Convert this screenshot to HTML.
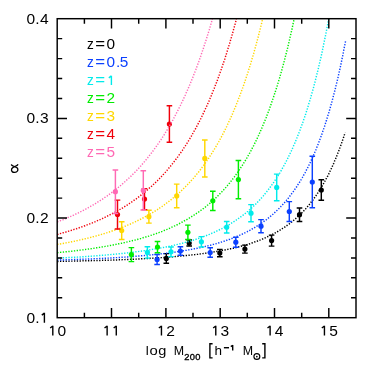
<!DOCTYPE html>
<html><head><meta charset="utf-8"><title>alpha vs mass</title>
<style>html,body{margin:0;padding:0;background:#fff}body{width:374px;height:374px;position:relative;overflow:hidden;font-family:"Liberation Sans",sans-serif}</style></head>
<body>
<svg width="374" height="374" viewBox="0 0 374 374" style="position:absolute;left:0;top:0;will-change:transform">
<defs><clipPath id="c"><rect x="57.2" y="18.7" width="298.8" height="299.0"/></clipPath></defs>
<path clip-path="url(#c)" d="M57.2 261.4 L58.2 261.4 L59.1 261.3 L60.1 261.3 L61.1 261.3 L62.0 261.3 L63.0 261.3 L63.9 261.2 L64.9 261.2 L65.9 261.2 L66.8 261.2 L67.8 261.2 L68.8 261.2 L69.7 261.1 L70.7 261.1 L71.6 261.1 L72.6 261.1 L73.6 261.1 L74.5 261.0 L75.5 261.0 L76.5 261.0 L77.4 261.0 L78.4 261.0 L79.3 260.9 L80.3 260.9 L81.3 260.9 L82.2 260.9 L83.2 260.8 L84.2 260.8 L85.1 260.8 L86.1 260.8 L87.1 260.8 L88.0 260.7 L89.0 260.7 L89.9 260.7 L90.9 260.7 L91.9 260.6 L92.8 260.6 L93.8 260.6 L94.8 260.6 L95.7 260.5 L96.7 260.5 L97.6 260.5 L98.6 260.4 L99.6 260.4 L100.5 260.4 L101.5 260.4 L102.5 260.3 L103.4 260.3 L104.4 260.3 L105.3 260.2 L106.3 260.2 L107.3 260.2 L108.2 260.2 L109.2 260.1 L110.2 260.1 L111.1 260.1 L112.1 260.0 L113.1 260.0 L114.0 260.0 L115.0 259.9 L115.9 259.9 L116.9 259.9 L117.9 259.8 L118.8 259.8 L119.8 259.8 L120.8 259.7 L121.7 259.7 L122.7 259.6 L123.6 259.6 L124.6 259.6 L125.6 259.5 L126.5 259.5 L127.5 259.5 L128.5 259.4 L129.4 259.4 L130.4 259.3 L131.4 259.3 L132.3 259.2 L133.3 259.2 L134.2 259.2 L135.2 259.1 L136.2 259.1 L137.1 259.0 L138.1 259.0 L139.1 258.9 L140.0 258.9 L141.0 258.8 L141.9 258.8 L142.9 258.7 L143.9 258.7 L144.8 258.6 L145.8 258.6 L146.8 258.5 L147.7 258.5 L148.7 258.4 L149.6 258.4 L150.6 258.3 L151.6 258.3 L152.5 258.2 L153.5 258.1 L154.5 258.1 L155.4 258.0 L156.4 258.0 L157.4 257.9 L158.3 257.8 L159.3 257.8 L160.2 257.7 L161.2 257.6 L162.2 257.6 L163.1 257.5 L164.1 257.4 L165.1 257.4 L166.0 257.3 L167.0 257.2 L167.9 257.2 L168.9 257.1 L169.9 257.0 L170.8 256.9 L171.8 256.9 L172.8 256.8 L173.7 256.7 L174.7 256.6 L175.6 256.5 L176.6 256.5 L177.6 256.4 L178.5 256.3 L179.5 256.2 L180.5 256.1 L181.4 256.0 L182.4 255.9 L183.4 255.8 L184.3 255.7 L185.3 255.6 L186.2 255.5 L187.2 255.4 L188.2 255.3 L189.1 255.2 L190.1 255.1 L191.1 255.0 L192.0 254.9 L193.0 254.8 L193.9 254.7 L194.9 254.6 L195.9 254.5 L196.8 254.4 L197.8 254.3 L198.8 254.1 L199.7 254.0 L200.7 253.9 L201.6 253.8 L202.6 253.6 L203.6 253.5 L204.5 253.4 L205.5 253.2 L206.5 253.1 L207.4 253.0 L208.4 252.8 L209.4 252.7 L210.3 252.5 L211.3 252.4 L212.2 252.2 L213.2 252.1 L214.2 251.9 L215.1 251.8 L216.1 251.6 L217.1 251.4 L218.0 251.3 L219.0 251.1 L219.9 250.9 L220.9 250.8 L221.9 250.6 L222.8 250.4 L223.8 250.2 L224.8 250.0 L225.7 249.8 L226.7 249.6 L227.6 249.4 L228.6 249.2 L229.6 249.0 L230.5 248.8 L231.5 248.6 L232.5 248.4 L233.4 248.2 L234.4 247.9 L235.4 247.7 L236.3 247.5 L237.3 247.2 L238.2 247.0 L239.2 246.7 L240.2 246.5 L241.1 246.2 L242.1 246.0 L243.1 245.7 L244.0 245.4 L245.0 245.1 L245.9 244.8 L246.9 244.6 L247.9 244.3 L248.8 244.0 L249.8 243.7 L250.8 243.3 L251.7 243.0 L252.7 242.7 L253.7 242.4 L254.6 242.0 L255.6 241.7 L256.5 241.3 L257.5 241.0 L258.5 240.6 L259.4 240.2 L260.4 239.9 L261.4 239.5 L262.3 239.1 L263.3 238.7 L264.2 238.3 L265.2 237.8 L266.2 237.4 L267.1 237.0 L268.1 236.5 L269.1 236.1 L270.0 235.6 L271.0 235.1 L271.9 234.6 L272.9 234.1 L273.9 233.6 L274.8 233.1 L275.8 232.6 L276.8 232.0 L277.7 231.5 L278.7 230.9 L279.7 230.3 L280.6 229.7 L281.6 229.1 L282.5 228.5 L283.5 227.9 L284.5 227.3 L285.4 226.6 L286.4 225.9 L287.4 225.2 L288.3 224.5 L289.3 223.8 L290.2 223.1 L291.2 222.3 L292.2 221.6 L293.1 220.8 L294.1 220.0 L295.1 219.2 L296.0 218.3 L297.0 217.5 L297.9 216.6 L298.9 215.7 L299.9 214.8 L300.8 213.8 L301.8 212.9 L302.8 211.9 L303.7 210.9 L304.7 209.8 L305.7 208.8 L306.6 207.7 L307.6 206.6 L308.5 205.4 L309.5 204.3 L310.5 203.1 L311.4 201.8 L312.4 200.6 L313.4 199.3 L314.3 198.0 L315.3 196.7 L316.2 195.3 L317.2 193.9 L318.2 192.4 L319.1 190.9 L320.1 189.4 L321.1 187.9 L322.0 186.3 L323.0 184.6 L323.9 182.9 L324.9 181.2 L325.9 179.4 L326.8 177.6 L327.8 175.8 L328.8 173.9 L329.7 171.9 L330.7 169.9 L331.7 167.9 L332.6 165.7 L333.6 163.6 L334.5 161.3 L335.5 159.1 L336.5 156.7 L337.4 154.3 L338.4 151.8 L339.4 149.3 L340.3 146.7 L341.3 144.0 L342.2 141.3 L343.2 138.5 L344.2 135.6 L345.1 132.6" stroke="#000000" fill="none" stroke-width="1.45" stroke-dasharray="1.3 1.5"/>
<g stroke="#000000" fill="#000000" stroke-width="1.45"><path d="M166.3 253.6V263.2M163.5 253.6h5.6M163.5 263.2h5.6" fill="none"/><circle cx="166.3" cy="258.4" r="2.6" stroke="none"/><path d="M189.2 240.0V246.0M186.4 240.0h5.6M186.4 246.0h5.6" fill="none"/><circle cx="189.2" cy="243.0" r="2.6" stroke="none"/><path d="M219.8 249.5V256.7M217.0 249.5h5.6M217.0 256.7h5.6" fill="none"/><circle cx="219.8" cy="253.1" r="2.6" stroke="none"/><path d="M244.9 245.1V253.1M242.1 245.1h5.6M242.1 253.1h5.6" fill="none"/><circle cx="244.9" cy="249.1" r="2.6" stroke="none"/><path d="M271.6 235.1V246.1M268.8 235.1h5.6M268.8 246.1h5.6" fill="none"/><circle cx="271.6" cy="240.6" r="2.6" stroke="none"/><path d="M299.5 208.0V221.4M296.7 208.0h5.6M296.7 221.4h5.6" fill="none"/><circle cx="299.5" cy="214.7" r="2.6" stroke="none"/><path d="M321.3 179.7V200.3M318.5 179.7h5.6M318.5 200.3h5.6" fill="none"/><circle cx="321.3" cy="190.0" r="2.6" stroke="none"/></g>
<path clip-path="url(#c)" d="M57.2 260.1 L58.2 260.1 L59.1 260.0 L60.1 260.0 L61.1 260.0 L62.0 260.0 L63.0 259.9 L64.0 259.9 L64.9 259.9 L65.9 259.8 L66.8 259.8 L67.8 259.8 L68.8 259.7 L69.7 259.7 L70.7 259.7 L71.7 259.6 L72.6 259.6 L73.6 259.6 L74.6 259.5 L75.5 259.5 L76.5 259.5 L77.5 259.4 L78.4 259.4 L79.4 259.4 L80.4 259.3 L81.3 259.3 L82.3 259.3 L83.2 259.2 L84.2 259.2 L85.2 259.1 L86.1 259.1 L87.1 259.1 L88.1 259.0 L89.0 259.0 L90.0 258.9 L91.0 258.9 L91.9 258.9 L92.9 258.8 L93.9 258.8 L94.8 258.7 L95.8 258.7 L96.8 258.6 L97.7 258.6 L98.7 258.5 L99.7 258.5 L100.6 258.5 L101.6 258.4 L102.5 258.4 L103.5 258.3 L104.5 258.3 L105.4 258.2 L106.4 258.2 L107.4 258.1 L108.3 258.1 L109.3 258.0 L110.3 257.9 L111.2 257.9 L112.2 257.8 L113.2 257.8 L114.1 257.7 L115.1 257.7 L116.1 257.6 L117.0 257.6 L118.0 257.5 L118.9 257.4 L119.9 257.4 L120.9 257.3 L121.8 257.2 L122.8 257.2 L123.8 257.1 L124.7 257.1 L125.7 257.0 L126.7 256.9 L127.6 256.9 L128.6 256.8 L129.6 256.7 L130.5 256.6 L131.5 256.6 L132.5 256.5 L133.4 256.4 L134.4 256.4 L135.3 256.3 L136.3 256.2 L137.3 256.1 L138.2 256.0 L139.2 256.0 L140.2 255.9 L141.1 255.8 L142.1 255.7 L143.1 255.6 L144.0 255.6 L145.0 255.5 L146.0 255.4 L146.9 255.3 L147.9 255.2 L148.9 255.1 L149.8 255.0 L150.8 254.9 L151.8 254.8 L152.7 254.7 L153.7 254.6 L154.6 254.5 L155.6 254.4 L156.6 254.3 L157.5 254.2 L158.5 254.1 L159.5 254.0 L160.4 253.9 L161.4 253.8 L162.4 253.7 L163.3 253.6 L164.3 253.5 L165.3 253.3 L166.2 253.2 L167.2 253.1 L168.2 253.0 L169.1 252.8 L170.1 252.7 L171.0 252.6 L172.0 252.5 L173.0 252.3 L173.9 252.2 L174.9 252.1 L175.9 251.9 L176.8 251.8 L177.8 251.6 L178.8 251.5 L179.7 251.3 L180.7 251.2 L181.7 251.0 L182.6 250.9 L183.6 250.7 L184.6 250.6 L185.5 250.4 L186.5 250.3 L187.4 250.1 L188.4 249.9 L189.4 249.7 L190.3 249.6 L191.3 249.4 L192.3 249.2 L193.2 249.0 L194.2 248.8 L195.2 248.7 L196.1 248.5 L197.1 248.3 L198.1 248.1 L199.0 247.9 L200.0 247.7 L201.0 247.4 L201.9 247.2 L202.9 247.0 L203.9 246.8 L204.8 246.6 L205.8 246.3 L206.7 246.1 L207.7 245.9 L208.7 245.6 L209.6 245.4 L210.6 245.2 L211.6 244.9 L212.5 244.6 L213.5 244.4 L214.5 244.1 L215.4 243.9 L216.4 243.6 L217.4 243.3 L218.3 243.0 L219.3 242.7 L220.3 242.4 L221.2 242.1 L222.2 241.8 L223.1 241.5 L224.1 241.2 L225.1 240.9 L226.0 240.6 L227.0 240.2 L228.0 239.9 L228.9 239.5 L229.9 239.2 L230.9 238.8 L231.8 238.5 L232.8 238.1 L233.8 237.7 L234.7 237.3 L235.7 236.9 L236.7 236.5 L237.6 236.1 L238.6 235.7 L239.5 235.3 L240.5 234.9 L241.5 234.4 L242.4 234.0 L243.4 233.5 L244.4 233.1 L245.3 232.6 L246.3 232.1 L247.3 231.6 L248.2 231.1 L249.2 230.6 L250.2 230.1 L251.1 229.6 L252.1 229.0 L253.1 228.5 L254.0 227.9 L255.0 227.3 L256.0 226.7 L256.9 226.1 L257.9 225.5 L258.8 224.9 L259.8 224.3 L260.8 223.6 L261.7 223.0 L262.7 222.3 L263.7 221.6 L264.6 220.9 L265.6 220.2 L266.6 219.5 L267.5 218.7 L268.5 217.9 L269.5 217.2 L270.4 216.4 L271.4 215.6 L272.4 214.7 L273.3 213.9 L274.3 213.0 L275.2 212.1 L276.2 211.2 L277.2 210.3 L278.1 209.4 L279.1 208.4 L280.1 207.4 L281.0 206.4 L282.0 205.4 L283.0 204.3 L283.9 203.3 L284.9 202.2 L285.9 201.1 L286.8 199.9 L287.8 198.7 L288.8 197.6 L289.7 196.3 L290.7 195.1 L291.6 193.8 L292.6 192.5 L293.6 191.2 L294.5 189.8 L295.5 188.4 L296.5 187.0 L297.4 185.5 L298.4 184.0 L299.4 182.5 L300.3 180.9 L301.3 179.3 L302.3 177.6 L303.2 175.9 L304.2 174.2 L305.2 172.5 L306.1 170.6 L307.1 168.8 L308.1 166.9 L309.0 165.0 L310.0 163.0 L310.9 160.9 L311.9 158.9 L312.9 156.7 L313.8 154.5 L314.8 152.3 L315.8 150.0 L316.7 147.6 L317.7 145.2 L318.7 142.8 L319.6 140.2 L320.6 137.6 L321.6 135.0 L322.5 132.2 L323.5 129.4 L324.5 126.5 L325.4 123.6 L326.4 120.6 L327.3 117.5 L328.3 114.3 L329.3 111.1 L330.2 107.7 L331.2 104.3 L332.2 100.8 L333.1 97.1 L334.1 93.4 L335.1 89.6 L336.0 85.7 L337.0 81.7 L338.0 77.6 L338.9 73.4 L339.9 69.0 L340.9 64.6 L341.8 60.0 L342.8 55.3 L343.7 50.4 L344.7 45.5 L345.7 40.4" stroke="#0b40ff" fill="none" stroke-width="1.45" stroke-dasharray="1.3 1.5"/>
<g stroke="#0b40ff" fill="#0b40ff" stroke-width="1.45"><path d="M157.1 254.5V264.5M154.3 254.5h5.6M154.3 264.5h5.6" fill="none"/><circle cx="157.1" cy="259.5" r="2.6" stroke="none"/><path d="M180.4 246.7V255.3M177.6 246.7h5.6M177.6 255.3h5.6" fill="none"/><circle cx="180.4" cy="251.0" r="2.6" stroke="none"/><path d="M210.2 247.7V257.3M207.4 247.7h5.6M207.4 257.3h5.6" fill="none"/><circle cx="210.2" cy="252.5" r="2.6" stroke="none"/><path d="M235.8 237.2V247.2M233.0 237.2h5.6M233.0 247.2h5.6" fill="none"/><circle cx="235.8" cy="242.2" r="2.6" stroke="none"/><path d="M261.0 219.6V232.8M258.2 219.6h5.6M258.2 232.8h5.6" fill="none"/><circle cx="261.0" cy="226.2" r="2.6" stroke="none"/><path d="M289.3 201.6V221.4M286.5 201.6h5.6M286.5 221.4h5.6" fill="none"/><circle cx="289.3" cy="211.5" r="2.6" stroke="none"/><path d="M312.3 156.2V207.8M309.5 156.2h5.6M309.5 207.8h5.6" fill="none"/><circle cx="312.3" cy="182.0" r="2.6" stroke="none"/></g>
<path clip-path="url(#c)" d="M57.2 258.1 L58.2 258.1 L59.1 258.0 L60.1 258.0 L61.1 257.9 L62.0 257.9 L63.0 257.8 L63.9 257.8 L64.9 257.7 L65.9 257.7 L66.8 257.6 L67.8 257.6 L68.8 257.5 L69.7 257.5 L70.7 257.4 L71.6 257.4 L72.6 257.3 L73.6 257.3 L74.5 257.2 L75.5 257.2 L76.5 257.1 L77.4 257.1 L78.4 257.0 L79.3 256.9 L80.3 256.9 L81.3 256.8 L82.2 256.8 L83.2 256.7 L84.2 256.6 L85.1 256.6 L86.1 256.5 L87.1 256.4 L88.0 256.4 L89.0 256.3 L89.9 256.2 L90.9 256.2 L91.9 256.1 L92.8 256.0 L93.8 256.0 L94.8 255.9 L95.7 255.8 L96.7 255.8 L97.6 255.7 L98.6 255.6 L99.6 255.5 L100.5 255.5 L101.5 255.4 L102.5 255.3 L103.4 255.2 L104.4 255.1 L105.3 255.1 L106.3 255.0 L107.3 254.9 L108.2 254.8 L109.2 254.7 L110.2 254.6 L111.1 254.5 L112.1 254.5 L113.1 254.4 L114.0 254.3 L115.0 254.2 L115.9 254.1 L116.9 254.0 L117.9 253.9 L118.8 253.8 L119.8 253.7 L120.8 253.6 L121.7 253.5 L122.7 253.4 L123.6 253.3 L124.6 253.2 L125.6 253.1 L126.5 253.0 L127.5 252.9 L128.5 252.8 L129.4 252.6 L130.4 252.5 L131.4 252.4 L132.3 252.3 L133.3 252.2 L134.2 252.1 L135.2 251.9 L136.2 251.8 L137.1 251.7 L138.1 251.6 L139.1 251.4 L140.0 251.3 L141.0 251.2 L141.9 251.0 L142.9 250.9 L143.9 250.8 L144.8 250.6 L145.8 250.5 L146.8 250.3 L147.7 250.2 L148.7 250.0 L149.6 249.9 L150.6 249.7 L151.6 249.6 L152.5 249.4 L153.5 249.3 L154.5 249.1 L155.4 248.9 L156.4 248.8 L157.4 248.6 L158.3 248.4 L159.3 248.3 L160.2 248.1 L161.2 247.9 L162.2 247.7 L163.1 247.5 L164.1 247.4 L165.1 247.2 L166.0 247.0 L167.0 246.8 L167.9 246.6 L168.9 246.4 L169.9 246.2 L170.8 246.0 L171.8 245.8 L172.8 245.5 L173.7 245.3 L174.7 245.1 L175.6 244.9 L176.6 244.6 L177.6 244.4 L178.5 244.2 L179.5 243.9 L180.5 243.7 L181.4 243.5 L182.4 243.2 L183.4 243.0 L184.3 242.7 L185.3 242.4 L186.2 242.2 L187.2 241.9 L188.2 241.6 L189.1 241.3 L190.1 241.1 L191.1 240.8 L192.0 240.5 L193.0 240.2 L193.9 239.9 L194.9 239.6 L195.9 239.3 L196.8 239.0 L197.8 238.6 L198.8 238.3 L199.7 238.0 L200.7 237.6 L201.6 237.3 L202.6 236.9 L203.6 236.6 L204.5 236.2 L205.5 235.9 L206.5 235.5 L207.4 235.1 L208.4 234.7 L209.4 234.3 L210.3 233.9 L211.3 233.5 L212.2 233.1 L213.2 232.7 L214.2 232.3 L215.1 231.8 L216.1 231.4 L217.1 230.9 L218.0 230.5 L219.0 230.0 L219.9 229.5 L220.9 229.0 L221.9 228.6 L222.8 228.1 L223.8 227.5 L224.8 227.0 L225.7 226.5 L226.7 226.0 L227.6 225.4 L228.6 224.9 L229.6 224.3 L230.5 223.7 L231.5 223.1 L232.5 222.5 L233.4 221.9 L234.4 221.3 L235.4 220.7 L236.3 220.0 L237.3 219.4 L238.2 218.7 L239.2 218.0 L240.2 217.3 L241.1 216.6 L242.1 215.9 L243.1 215.1 L244.0 214.4 L245.0 213.6 L245.9 212.9 L246.9 212.1 L247.9 211.3 L248.8 210.4 L249.8 209.6 L250.8 208.7 L251.7 207.9 L252.7 207.0 L253.7 206.1 L254.6 205.1 L255.6 204.2 L256.5 203.2 L257.5 202.2 L258.5 201.2 L259.4 200.2 L260.4 199.2 L261.4 198.1 L262.3 197.0 L263.3 195.9 L264.2 194.8 L265.2 193.6 L266.2 192.5 L267.1 191.2 L268.1 190.0 L269.1 188.8 L270.0 187.5 L271.0 186.2 L271.9 184.8 L272.9 183.5 L273.9 182.1 L274.8 180.7 L275.8 179.2 L276.8 177.7 L277.7 176.2 L278.7 174.7 L279.7 173.1 L280.6 171.5 L281.6 169.8 L282.5 168.1 L283.5 166.4 L284.5 164.6 L285.4 162.9 L286.4 161.0 L287.4 159.1 L288.3 157.2 L289.3 155.2 L290.2 153.2 L291.2 151.2 L292.2 149.1 L293.1 146.9 L294.1 144.7 L295.1 142.5 L296.0 140.2 L297.0 137.8 L297.9 135.4 L298.9 132.9 L299.9 130.4 L300.8 127.8 L301.8 125.2 L302.8 122.5 L303.7 119.7 L304.7 116.9 L305.7 114.0 L306.6 111.0 L307.6 108.0 L308.5 104.8 L309.5 101.6 L310.5 98.4 L311.4 95.0 L312.4 91.6 L313.4 88.1 L314.3 84.5 L315.3 80.8 L316.2 77.0 L317.2 73.1 L318.2 69.2 L319.1 65.1 L320.1 60.9 L321.1 56.7 L322.0 52.3 L323.0 47.8 L323.9 43.2 L324.9 38.5 L325.9 33.6 L326.8 28.7 L327.8 23.6 L328.8 18.4 L329.7 13.0 L330.7 7.5 L331.7 1.9" stroke="#00ebeb" fill="none" stroke-width="1.45" stroke-dasharray="1.3 1.5"/>
<g stroke="#00ebeb" fill="#00ebeb" stroke-width="1.45"><path d="M147.4 246.7V258.1M144.6 246.7h5.6M144.6 258.1h5.6" fill="none"/><circle cx="147.4" cy="252.4" r="2.6" stroke="none"/><path d="M171.0 247.0V256.6M168.2 247.0h5.6M168.2 256.6h5.6" fill="none"/><circle cx="171.0" cy="251.8" r="2.6" stroke="none"/><path d="M201.4 236.6V247.0M198.6 236.6h5.6M198.6 247.0h5.6" fill="none"/><circle cx="201.4" cy="241.8" r="2.6" stroke="none"/><path d="M226.7 221.4V233.0M223.9 221.4h5.6M223.9 233.0h5.6" fill="none"/><circle cx="226.7" cy="227.2" r="2.6" stroke="none"/><path d="M251.0 204.6V221.8M248.2 204.6h5.6M248.2 221.8h5.6" fill="none"/><circle cx="251.0" cy="213.2" r="2.6" stroke="none"/><path d="M276.7 174.1V200.7M273.9 174.1h5.6M273.9 200.7h5.6" fill="none"/><circle cx="276.7" cy="187.4" r="2.6" stroke="none"/></g>
<path clip-path="url(#c)" d="M57.2 252.7 L58.2 252.6 L59.1 252.5 L60.1 252.4 L61.1 252.3 L62.0 252.2 L63.0 252.1 L63.9 252.0 L64.9 251.9 L65.9 251.8 L66.8 251.7 L67.8 251.6 L68.8 251.5 L69.7 251.4 L70.7 251.3 L71.6 251.2 L72.6 251.1 L73.6 251.0 L74.5 250.9 L75.5 250.7 L76.5 250.6 L77.4 250.5 L78.4 250.4 L79.3 250.3 L80.3 250.1 L81.3 250.0 L82.2 249.9 L83.2 249.8 L84.2 249.6 L85.1 249.5 L86.1 249.4 L87.1 249.3 L88.0 249.1 L89.0 249.0 L89.9 248.8 L90.9 248.7 L91.9 248.6 L92.8 248.4 L93.8 248.3 L94.8 248.1 L95.7 248.0 L96.7 247.8 L97.6 247.7 L98.6 247.5 L99.6 247.4 L100.5 247.2 L101.5 247.1 L102.5 246.9 L103.4 246.7 L104.4 246.6 L105.3 246.4 L106.3 246.2 L107.3 246.1 L108.2 245.9 L109.2 245.7 L110.2 245.5 L111.1 245.4 L112.1 245.2 L113.1 245.0 L114.0 244.8 L115.0 244.6 L115.9 244.4 L116.9 244.2 L117.9 244.0 L118.8 243.8 L119.8 243.6 L120.8 243.4 L121.7 243.2 L122.7 243.0 L123.6 242.8 L124.6 242.6 L125.6 242.3 L126.5 242.1 L127.5 241.9 L128.5 241.7 L129.4 241.4 L130.4 241.2 L131.4 241.0 L132.3 240.7 L133.3 240.5 L134.2 240.2 L135.2 240.0 L136.2 239.7 L137.1 239.5 L138.1 239.2 L139.1 238.9 L140.0 238.7 L141.0 238.4 L141.9 238.1 L142.9 237.8 L143.9 237.5 L144.8 237.3 L145.8 237.0 L146.8 236.7 L147.7 236.4 L148.7 236.1 L149.6 235.8 L150.6 235.4 L151.6 235.1 L152.5 234.8 L153.5 234.5 L154.5 234.1 L155.4 233.8 L156.4 233.5 L157.4 233.1 L158.3 232.8 L159.3 232.4 L160.2 232.0 L161.2 231.7 L162.2 231.3 L163.1 230.9 L164.1 230.5 L165.1 230.1 L166.0 229.7 L167.0 229.3 L167.9 228.9 L168.9 228.5 L169.9 228.1 L170.8 227.7 L171.8 227.2 L172.8 226.8 L173.7 226.3 L174.7 225.9 L175.6 225.4 L176.6 225.0 L177.6 224.5 L178.5 224.0 L179.5 223.5 L180.5 223.0 L181.4 222.5 L182.4 222.0 L183.4 221.5 L184.3 220.9 L185.3 220.4 L186.2 219.9 L187.2 219.3 L188.2 218.7 L189.1 218.2 L190.1 217.6 L191.1 217.0 L192.0 216.4 L193.0 215.8 L193.9 215.2 L194.9 214.5 L195.9 213.9 L196.8 213.2 L197.8 212.6 L198.8 211.9 L199.7 211.2 L200.7 210.5 L201.6 209.8 L202.6 209.1 L203.6 208.4 L204.5 207.6 L205.5 206.9 L206.5 206.1 L207.4 205.3 L208.4 204.5 L209.4 203.7 L210.3 202.9 L211.3 202.0 L212.2 201.2 L213.2 200.3 L214.2 199.4 L215.1 198.6 L216.1 197.6 L217.1 196.7 L218.0 195.8 L219.0 194.8 L219.9 193.8 L220.9 192.8 L221.9 191.8 L222.8 190.8 L223.8 189.7 L224.8 188.7 L225.7 187.6 L226.7 186.5 L227.6 185.4 L228.6 184.2 L229.6 183.0 L230.5 181.9 L231.5 180.6 L232.5 179.4 L233.4 178.2 L234.4 176.9 L235.4 175.6 L236.3 174.2 L237.3 172.9 L238.2 171.5 L239.2 170.1 L240.2 168.7 L241.1 167.2 L242.1 165.7 L243.1 164.2 L244.0 162.7 L245.0 161.1 L245.9 159.5 L246.9 157.9 L247.9 156.2 L248.8 154.5 L249.8 152.8 L250.8 151.0 L251.7 149.2 L252.7 147.4 L253.7 145.5 L254.6 143.6 L255.6 141.7 L256.5 139.7 L257.5 137.7 L258.5 135.6 L259.4 133.5 L260.4 131.3 L261.4 129.1 L262.3 126.9 L263.3 124.6 L264.2 122.3 L265.2 119.9 L266.2 117.5 L267.1 115.0 L268.1 112.5 L269.1 109.9 L270.0 107.3 L271.0 104.6 L271.9 101.8 L272.9 99.0 L273.9 96.1 L274.8 93.2 L275.8 90.2 L276.8 87.2 L277.7 84.1 L278.7 80.9 L279.7 77.6 L280.6 74.3 L281.6 70.9 L282.5 67.4 L283.5 63.9 L284.5 60.2 L285.4 56.5 L286.4 52.7 L287.4 48.9 L288.3 44.9 L289.3 40.8 L290.2 36.7 L291.2 32.5 L292.2 28.1 L293.1 23.7 L294.1 19.2 L295.1 14.5 L296.0 9.8 L297.0 4.9 L297.9 -0.0" stroke="#00ed00" fill="none" stroke-width="1.45" stroke-dasharray="1.3 1.5"/>
<g stroke="#00ed00" fill="#00ed00" stroke-width="1.45"><path d="M131.4 247.6V261.6M128.6 247.6h5.6M128.6 261.6h5.6" fill="none"/><circle cx="131.4" cy="254.6" r="2.6" stroke="none"/><path d="M157.5 241.5V252.7M154.7 241.5h5.6M154.7 252.7h5.6" fill="none"/><circle cx="157.5" cy="247.1" r="2.6" stroke="none"/><path d="M187.9 225.1V239.5M185.1 225.1h5.6M185.1 239.5h5.6" fill="none"/><circle cx="187.9" cy="232.3" r="2.6" stroke="none"/><path d="M212.8 191.2V210.4M210.0 191.2h5.6M210.0 210.4h5.6" fill="none"/><circle cx="212.8" cy="200.8" r="2.6" stroke="none"/><path d="M238.4 160.4V198.8M235.6 160.4h5.6M235.6 198.8h5.6" fill="none"/><circle cx="238.4" cy="179.6" r="2.6" stroke="none"/></g>
<path clip-path="url(#c)" d="M57.2 244.5 L58.2 244.3 L59.1 244.2 L60.1 244.0 L61.1 243.8 L62.0 243.6 L63.0 243.5 L63.9 243.3 L64.9 243.1 L65.9 242.9 L66.8 242.7 L67.8 242.5 L68.8 242.4 L69.7 242.2 L70.7 242.0 L71.6 241.8 L72.6 241.6 L73.6 241.4 L74.5 241.2 L75.5 241.0 L76.5 240.8 L77.4 240.6 L78.4 240.4 L79.3 240.1 L80.3 239.9 L81.3 239.7 L82.2 239.5 L83.2 239.3 L84.2 239.0 L85.1 238.8 L86.1 238.6 L87.1 238.3 L88.0 238.1 L89.0 237.8 L89.9 237.6 L90.9 237.4 L91.9 237.1 L92.8 236.8 L93.8 236.6 L94.8 236.3 L95.7 236.1 L96.7 235.8 L97.6 235.5 L98.6 235.3 L99.6 235.0 L100.5 234.7 L101.5 234.4 L102.5 234.1 L103.4 233.8 L104.4 233.5 L105.3 233.2 L106.3 232.9 L107.3 232.6 L108.2 232.3 L109.2 232.0 L110.2 231.7 L111.1 231.4 L112.1 231.0 L113.1 230.7 L114.0 230.4 L115.0 230.0 L115.9 229.7 L116.9 229.4 L117.9 229.0 L118.8 228.6 L119.8 228.3 L120.8 227.9 L121.7 227.5 L122.7 227.2 L123.6 226.8 L124.6 226.4 L125.6 226.0 L126.5 225.6 L127.5 225.2 L128.5 224.8 L129.4 224.4 L130.4 224.0 L131.4 223.5 L132.3 223.1 L133.3 222.7 L134.2 222.2 L135.2 221.8 L136.2 221.3 L137.1 220.9 L138.1 220.4 L139.1 219.9 L140.0 219.5 L141.0 219.0 L141.9 218.5 L142.9 218.0 L143.9 217.5 L144.8 217.0 L145.8 216.4 L146.8 215.9 L147.7 215.4 L148.7 214.8 L149.6 214.3 L150.6 213.7 L151.6 213.1 L152.5 212.6 L153.5 212.0 L154.5 211.4 L155.4 210.8 L156.4 210.2 L157.4 209.6 L158.3 208.9 L159.3 208.3 L160.2 207.6 L161.2 207.0 L162.2 206.3 L163.1 205.6 L164.1 205.0 L165.1 204.3 L166.0 203.6 L167.0 202.8 L167.9 202.1 L168.9 201.4 L169.9 200.6 L170.8 199.9 L171.8 199.1 L172.8 198.3 L173.7 197.5 L174.7 196.7 L175.6 195.9 L176.6 195.0 L177.6 194.2 L178.5 193.3 L179.5 192.5 L180.5 191.6 L181.4 190.7 L182.4 189.8 L183.4 188.8 L184.3 187.9 L185.3 186.9 L186.2 185.9 L187.2 185.0 L188.2 184.0 L189.1 182.9 L190.1 181.9 L191.1 180.8 L192.0 179.8 L193.0 178.7 L193.9 177.6 L194.9 176.4 L195.9 175.3 L196.8 174.1 L197.8 173.0 L198.8 171.8 L199.7 170.5 L200.7 169.3 L201.6 168.0 L202.6 166.8 L203.6 165.5 L204.5 164.1 L205.5 162.8 L206.5 161.4 L207.4 160.0 L208.4 158.6 L209.4 157.2 L210.3 155.7 L211.3 154.2 L212.2 152.7 L213.2 151.1 L214.2 149.6 L215.1 148.0 L216.1 146.3 L217.1 144.7 L218.0 143.0 L219.0 141.3 L219.9 139.6 L220.9 137.8 L221.9 136.0 L222.8 134.2 L223.8 132.3 L224.8 130.4 L225.7 128.4 L226.7 126.5 L227.6 124.5 L228.6 122.4 L229.6 120.3 L230.5 118.2 L231.5 116.1 L232.5 113.9 L233.4 111.6 L234.4 109.3 L235.4 107.0 L236.3 104.7 L237.3 102.2 L238.2 99.8 L239.2 97.3 L240.2 94.7 L241.1 92.1 L242.1 89.5 L243.1 86.8 L244.0 84.1 L245.0 81.3 L245.9 78.4 L246.9 75.5 L247.9 72.5 L248.8 69.5 L249.8 66.4 L250.8 63.3 L251.7 60.1 L252.7 56.8 L253.7 53.5 L254.6 50.1 L255.6 46.6 L256.5 43.1 L257.5 39.5 L258.5 35.8 L259.4 32.0 L260.4 28.2 L261.4 24.3 L262.3 20.3 L263.3 16.2 L264.2 12.1 L265.2 7.8 L266.2 3.5 L267.1 -0.9" stroke="#ffd700" fill="none" stroke-width="1.45" stroke-dasharray="1.3 1.5"/>
<g stroke="#ffd700" fill="#ffd700" stroke-width="1.45"><path d="M121.7 221.8V239.4M118.9 221.8h5.6M118.9 239.4h5.6" fill="none"/><circle cx="121.7" cy="230.6" r="2.6" stroke="none"/><path d="M148.9 210.3V223.1M146.1 210.3h5.6M146.1 223.1h5.6" fill="none"/><circle cx="148.9" cy="216.7" r="2.6" stroke="none"/><path d="M176.7 184.1V207.7M173.9 184.1h5.6M173.9 207.7h5.6" fill="none"/><circle cx="176.7" cy="195.9" r="2.6" stroke="none"/><path d="M204.8 139.9V176.9M202.0 139.9h5.6M202.0 176.9h5.6" fill="none"/><circle cx="204.8" cy="158.4" r="2.6" stroke="none"/></g>
<path clip-path="url(#c)" d="M57.2 234.4 L58.2 234.2 L59.1 233.9 L60.1 233.6 L61.1 233.4 L62.0 233.1 L63.0 232.8 L63.9 232.6 L64.9 232.3 L65.9 232.0 L66.8 231.7 L67.8 231.4 L68.8 231.1 L69.7 230.9 L70.7 230.6 L71.6 230.3 L72.6 230.0 L73.6 229.6 L74.5 229.3 L75.5 229.0 L76.5 228.7 L77.4 228.4 L78.4 228.1 L79.3 227.7 L80.3 227.4 L81.3 227.1 L82.2 226.7 L83.2 226.4 L84.2 226.0 L85.1 225.7 L86.1 225.3 L87.1 224.9 L88.0 224.6 L89.0 224.2 L89.9 223.8 L90.9 223.4 L91.9 223.1 L92.8 222.7 L93.8 222.3 L94.8 221.9 L95.7 221.5 L96.7 221.1 L97.6 220.6 L98.6 220.2 L99.6 219.8 L100.5 219.4 L101.5 218.9 L102.5 218.5 L103.4 218.0 L104.4 217.6 L105.3 217.1 L106.3 216.7 L107.3 216.2 L108.2 215.7 L109.2 215.2 L110.2 214.7 L111.1 214.3 L112.1 213.8 L113.1 213.2 L114.0 212.7 L115.0 212.2 L115.9 211.7 L116.9 211.1 L117.9 210.6 L118.8 210.1 L119.8 209.5 L120.8 208.9 L121.7 208.4 L122.7 207.8 L123.6 207.2 L124.6 206.6 L125.6 206.0 L126.5 205.4 L127.5 204.8 L128.5 204.1 L129.4 203.5 L130.4 202.9 L131.4 202.2 L132.3 201.6 L133.3 200.9 L134.2 200.2 L135.2 199.5 L136.2 198.8 L137.1 198.1 L138.1 197.4 L139.1 196.7 L140.0 195.9 L141.0 195.2 L141.9 194.4 L142.9 193.6 L143.9 192.9 L144.8 192.1 L145.8 191.3 L146.8 190.5 L147.7 189.6 L148.7 188.8 L149.6 187.9 L150.6 187.1 L151.6 186.2 L152.5 185.3 L153.5 184.4 L154.5 183.5 L155.4 182.6 L156.4 181.7 L157.4 180.7 L158.3 179.7 L159.3 178.8 L160.2 177.8 L161.2 176.8 L162.2 175.7 L163.1 174.7 L164.1 173.6 L165.1 172.6 L166.0 171.5 L167.0 170.4 L167.9 169.3 L168.9 168.1 L169.9 167.0 L170.8 165.8 L171.8 164.6 L172.8 163.4 L173.7 162.2 L174.7 160.9 L175.6 159.7 L176.6 158.4 L177.6 157.1 L178.5 155.8 L179.5 154.4 L180.5 153.1 L181.4 151.7 L182.4 150.3 L183.4 148.8 L184.3 147.4 L185.3 145.9 L186.2 144.4 L187.2 142.9 L188.2 141.3 L189.1 139.8 L190.1 138.2 L191.1 136.6 L192.0 134.9 L193.0 133.2 L193.9 131.5 L194.9 129.8 L195.9 128.1 L196.8 126.3 L197.8 124.4 L198.8 122.6 L199.7 120.7 L200.7 118.8 L201.6 116.9 L202.6 114.9 L203.6 112.9 L204.5 110.9 L205.5 108.8 L206.5 106.7 L207.4 104.5 L208.4 102.4 L209.4 100.2 L210.3 97.9 L211.3 95.6 L212.2 93.3 L213.2 90.9 L214.2 88.5 L215.1 86.0 L216.1 83.5 L217.1 81.0 L218.0 78.4 L219.0 75.8 L219.9 73.1 L220.9 70.4 L221.9 67.6 L222.8 64.8 L223.8 61.9 L224.8 59.0 L225.7 56.0 L226.7 53.0 L227.6 49.9 L228.6 46.7 L229.6 43.5 L230.5 40.3 L231.5 37.0 L232.5 33.6 L233.4 30.1 L234.4 26.6 L235.4 23.1 L236.3 19.4 L237.3 15.7 L238.2 11.9 L239.2 8.1 L240.2 4.2 L241.1 0.2" stroke="#f0000a" fill="none" stroke-width="1.45" stroke-dasharray="1.3 1.5"/>
<g stroke="#f0000a" fill="#f0000a" stroke-width="1.45"><path d="M117.5 200.1V228.9M114.7 200.1h5.6M114.7 228.9h5.6" fill="none"/><circle cx="117.5" cy="214.5" r="2.6" stroke="none"/><path d="M144.5 188.6V209.6M141.7 188.6h5.6M141.7 209.6h5.6" fill="none"/><circle cx="144.5" cy="199.1" r="2.6" stroke="none"/><path d="M169.4 105.8V142.2M166.6 105.8h5.6M166.6 142.2h5.6" fill="none"/><circle cx="169.4" cy="124.0" r="2.6" stroke="none"/></g>
<path clip-path="url(#c)" d="M57.2 221.9 L58.2 221.5 L59.1 221.2 L60.1 220.8 L61.1 220.4 L62.0 220.0 L63.0 219.7 L63.9 219.3 L64.9 218.9 L65.9 218.5 L66.8 218.1 L67.8 217.6 L68.8 217.2 L69.7 216.8 L70.7 216.4 L71.6 216.0 L72.6 215.5 L73.6 215.1 L74.5 214.6 L75.5 214.2 L76.5 213.7 L77.4 213.3 L78.4 212.8 L79.3 212.3 L80.3 211.8 L81.3 211.4 L82.2 210.9 L83.2 210.4 L84.2 209.9 L85.1 209.4 L86.1 208.9 L87.1 208.3 L88.0 207.8 L89.0 207.3 L89.9 206.7 L90.9 206.2 L91.9 205.6 L92.8 205.1 L93.8 204.5 L94.8 203.9 L95.7 203.4 L96.7 202.8 L97.6 202.2 L98.6 201.6 L99.6 201.0 L100.5 200.3 L101.5 199.7 L102.5 199.1 L103.4 198.4 L104.4 197.8 L105.3 197.1 L106.3 196.5 L107.3 195.8 L108.2 195.1 L109.2 194.4 L110.2 193.7 L111.1 193.0 L112.1 192.3 L113.1 191.6 L114.0 190.8 L115.0 190.1 L115.9 189.3 L116.9 188.6 L117.9 187.8 L118.8 187.0 L119.8 186.2 L120.8 185.4 L121.7 184.6 L122.7 183.7 L123.6 182.9 L124.6 182.0 L125.6 181.2 L126.5 180.3 L127.5 179.4 L128.5 178.5 L129.4 177.6 L130.4 176.7 L131.4 175.8 L132.3 174.8 L133.3 173.8 L134.2 172.9 L135.2 171.9 L136.2 170.9 L137.1 169.9 L138.1 168.8 L139.1 167.8 L140.0 166.7 L141.0 165.7 L141.9 164.6 L142.9 163.5 L143.9 162.4 L144.8 161.2 L145.8 160.1 L146.8 158.9 L147.7 157.7 L148.7 156.5 L149.6 155.3 L150.6 154.1 L151.6 152.8 L152.5 151.5 L153.5 150.3 L154.5 148.9 L155.4 147.6 L156.4 146.3 L157.4 144.9 L158.3 143.5 L159.3 142.1 L160.2 140.7 L161.2 139.3 L162.2 137.8 L163.1 136.3 L164.1 134.8 L165.1 133.2 L166.0 131.7 L167.0 130.1 L167.9 128.5 L168.9 126.9 L169.9 125.2 L170.8 123.5 L171.8 121.8 L172.8 120.1 L173.7 118.4 L174.7 116.6 L175.6 114.8 L176.6 112.9 L177.6 111.1 L178.5 109.2 L179.5 107.2 L180.5 105.3 L181.4 103.3 L182.4 101.3 L183.4 99.2 L184.3 97.1 L185.3 95.0 L186.2 92.9 L187.2 90.7 L188.2 88.5 L189.1 86.2 L190.1 84.0 L191.1 81.6 L192.0 79.3 L193.0 76.9 L193.9 74.4 L194.9 71.9 L195.9 69.4 L196.8 66.9 L197.8 64.3 L198.8 61.6 L199.7 58.9 L200.7 56.2 L201.6 53.4 L202.6 50.6 L203.6 47.7 L204.5 44.8 L205.5 41.8 L206.5 38.8 L207.4 35.7 L208.4 32.6 L209.4 29.4 L210.3 26.2 L211.3 22.9 L212.2 19.6 L213.2 16.2 L214.2 12.7 L215.1 9.2 L216.1 5.6 L217.1 2.0" stroke="#ff69b4" fill="none" stroke-width="1.45" stroke-dasharray="1.3 1.5"/>
<g stroke="#ff69b4" fill="#ff69b4" stroke-width="1.45"><path d="M115.4 169.9V213.5M112.6 169.9h5.6M112.6 213.5h5.6" fill="none"/><circle cx="115.4" cy="191.7" r="2.6" stroke="none"/><path d="M143.3 170.8V210.0M140.5 170.8h5.6M140.5 210.0h5.6" fill="none"/><circle cx="143.3" cy="190.4" r="2.6" stroke="none"/></g>
<path d="M84.4 317.7v-5M84.4 18.7v5M111.5 317.7v-9.8M111.5 18.7v9.8M138.7 317.7v-5M138.7 18.7v5M165.9 317.7v-9.8M165.9 18.7v9.8M193.0 317.7v-5M193.0 18.7v5M220.2 317.7v-9.8M220.2 18.7v9.8M247.3 317.7v-5M247.3 18.7v5M274.5 317.7v-9.8M274.5 18.7v9.8M301.7 317.7v-5M301.7 18.7v5M328.8 317.7v-9.8M328.8 18.7v9.8M57.2 297.8h5M356.0 297.8h-5M57.2 277.8h5M356.0 277.8h-5M57.2 257.9h5M356.0 257.9h-5M57.2 238.0h5M356.0 238.0h-5M57.2 218.0h9.8M356.0 218.0h-9.8M57.2 198.1h5M356.0 198.1h-5M57.2 178.2h5M356.0 178.2h-5M57.2 158.2h5M356.0 158.2h-5M57.2 138.3h5M356.0 138.3h-5M57.2 118.4h9.8M356.0 118.4h-9.8M57.2 98.4h5M356.0 98.4h-5M57.2 78.5h5M356.0 78.5h-5M57.2 58.6h5M356.0 58.6h-5M57.2 38.6h5M356.0 38.6h-5" stroke="#000" stroke-width="1.45" fill="none"/>
<rect x="57.2" y="18.7" width="298.8" height="299.0" fill="none" stroke="#000" stroke-width="1.45"/>
<path d="M50.20 328.05L52.80 326.05M52.80 325.80V335.60" fill="none" stroke="#000" stroke-width="1.4" stroke-linejoin="round"/>
<text transform="translate(61.85 335.70) scale(1.06 1)" font-size="14.7" text-anchor="middle" font-family="Liberation Sans, sans-serif">0</text>
<path d="M104.53 328.05L107.13 326.05M107.13 325.80V335.60" fill="none" stroke="#000" stroke-width="1.4" stroke-linejoin="round"/>
<path d="M113.68 328.05L116.28 326.05M116.28 325.80V335.60" fill="none" stroke="#000" stroke-width="1.4" stroke-linejoin="round"/>
<path d="M158.85 328.05L161.45 326.05M161.45 325.80V335.60" fill="none" stroke="#000" stroke-width="1.4" stroke-linejoin="round"/>
<text transform="translate(170.50 335.70) scale(1.06 1)" font-size="14.7" text-anchor="middle" font-family="Liberation Sans, sans-serif">2</text>
<path d="M213.18 328.05L215.78 326.05M215.78 325.80V335.60" fill="none" stroke="#000" stroke-width="1.4" stroke-linejoin="round"/>
<text transform="translate(224.83 335.70) scale(1.06 1)" font-size="14.7" text-anchor="middle" font-family="Liberation Sans, sans-serif">3</text>
<path d="M267.51 328.05L270.11 326.05M270.11 325.80V335.60" fill="none" stroke="#000" stroke-width="1.4" stroke-linejoin="round"/>
<text transform="translate(279.16 335.70) scale(1.06 1)" font-size="14.7" text-anchor="middle" font-family="Liberation Sans, sans-serif">4</text>
<path d="M321.84 328.05L324.44 326.05M324.44 325.80V335.60" fill="none" stroke="#000" stroke-width="1.4" stroke-linejoin="round"/>
<text transform="translate(333.49 335.70) scale(1.06 1)" font-size="14.7" text-anchor="middle" font-family="Liberation Sans, sans-serif">5</text>
<text transform="translate(30.80 322.75) scale(1.06 1)" font-size="14.7" text-anchor="middle" font-family="Liberation Sans, sans-serif">0</text>
<text transform="translate(37.45 322.75) scale(1.06 1)" font-size="14.7" text-anchor="middle" font-family="Liberation Sans, sans-serif">.</text>
<path d="M41.80 315.10L44.40 313.10M44.40 312.85V322.65" fill="none" stroke="#000" stroke-width="1.4" stroke-linejoin="round"/>
<text transform="translate(30.80 223.08) scale(1.06 1)" font-size="14.7" text-anchor="middle" font-family="Liberation Sans, sans-serif">0</text>
<text transform="translate(37.45 223.08) scale(1.06 1)" font-size="14.7" text-anchor="middle" font-family="Liberation Sans, sans-serif">.</text>
<text transform="translate(44.30 223.08) scale(1.06 1)" font-size="14.7" text-anchor="middle" font-family="Liberation Sans, sans-serif">2</text>
<text transform="translate(30.80 123.42) scale(1.06 1)" font-size="14.7" text-anchor="middle" font-family="Liberation Sans, sans-serif">0</text>
<text transform="translate(37.45 123.42) scale(1.06 1)" font-size="14.7" text-anchor="middle" font-family="Liberation Sans, sans-serif">.</text>
<text transform="translate(44.30 123.42) scale(1.06 1)" font-size="14.7" text-anchor="middle" font-family="Liberation Sans, sans-serif">3</text>
<text transform="translate(30.80 23.75) scale(1.06 1)" font-size="14.7" text-anchor="middle" font-family="Liberation Sans, sans-serif">0</text>
<text transform="translate(37.45 23.75) scale(1.06 1)" font-size="14.7" text-anchor="middle" font-family="Liberation Sans, sans-serif">.</text>
<text transform="translate(44.30 23.75) scale(1.06 1)" font-size="14.7" text-anchor="middle" font-family="Liberation Sans, sans-serif">4</text>
<text transform="translate(90.40 49.35) scale(0.97 1)" font-size="14.0" text-anchor="middle" fill="#000000" font-family="Liberation Sans, sans-serif">z</text>
<text transform="translate(100.05 49.35) scale(1.2 1)" font-size="14.0" text-anchor="middle" fill="#000000" font-family="Liberation Sans, sans-serif">=</text>
<text transform="translate(110.90 49.35) scale(1.1 1)" font-size="14.0" text-anchor="middle" fill="#000000" font-family="Liberation Sans, sans-serif">0</text>
<text transform="translate(90.40 67.23) scale(0.97 1)" font-size="14.0" text-anchor="middle" fill="#0b40ff" font-family="Liberation Sans, sans-serif">z</text>
<text transform="translate(100.05 67.23) scale(1.2 1)" font-size="14.0" text-anchor="middle" fill="#0b40ff" font-family="Liberation Sans, sans-serif">=</text>
<text transform="translate(110.90 67.23) scale(1.1 1)" font-size="14.0" text-anchor="middle" fill="#0b40ff" font-family="Liberation Sans, sans-serif">0</text>
<text transform="translate(118.20 67.23) scale(1.1 1)" font-size="14.0" text-anchor="middle" fill="#0b40ff" font-family="Liberation Sans, sans-serif">.</text>
<text transform="translate(124.10 67.23) scale(1.1 1)" font-size="14.0" text-anchor="middle" fill="#0b40ff" font-family="Liberation Sans, sans-serif">5</text>
<text transform="translate(90.40 85.11) scale(0.97 1)" font-size="14.0" text-anchor="middle" fill="#00ebeb" font-family="Liberation Sans, sans-serif">z</text>
<text transform="translate(100.05 85.11) scale(1.2 1)" font-size="14.0" text-anchor="middle" fill="#00ebeb" font-family="Liberation Sans, sans-serif">=</text>
<path d="M108.80 77.91L111.40 75.91M111.40 75.66V85.01" fill="none" stroke="#00ebeb" stroke-width="1.4" stroke-linejoin="round"/>
<text transform="translate(90.40 102.99) scale(0.97 1)" font-size="14.0" text-anchor="middle" fill="#00ed00" font-family="Liberation Sans, sans-serif">z</text>
<text transform="translate(100.05 102.99) scale(1.2 1)" font-size="14.0" text-anchor="middle" fill="#00ed00" font-family="Liberation Sans, sans-serif">=</text>
<text transform="translate(110.90 102.99) scale(1.1 1)" font-size="14.0" text-anchor="middle" fill="#00ed00" font-family="Liberation Sans, sans-serif">2</text>
<text transform="translate(90.40 120.87) scale(0.97 1)" font-size="14.0" text-anchor="middle" fill="#ffd700" font-family="Liberation Sans, sans-serif">z</text>
<text transform="translate(100.05 120.87) scale(1.2 1)" font-size="14.0" text-anchor="middle" fill="#ffd700" font-family="Liberation Sans, sans-serif">=</text>
<text transform="translate(110.90 120.87) scale(1.1 1)" font-size="14.0" text-anchor="middle" fill="#ffd700" font-family="Liberation Sans, sans-serif">3</text>
<text transform="translate(90.40 138.75) scale(0.97 1)" font-size="14.0" text-anchor="middle" fill="#f0000a" font-family="Liberation Sans, sans-serif">z</text>
<text transform="translate(100.05 138.75) scale(1.2 1)" font-size="14.0" text-anchor="middle" fill="#f0000a" font-family="Liberation Sans, sans-serif">=</text>
<text transform="translate(110.90 138.75) scale(1.1 1)" font-size="14.0" text-anchor="middle" fill="#f0000a" font-family="Liberation Sans, sans-serif">4</text>
<text transform="translate(90.40 156.63) scale(0.97 1)" font-size="14.0" text-anchor="middle" fill="#ff69b4" font-family="Liberation Sans, sans-serif">z</text>
<text transform="translate(100.05 156.63) scale(1.2 1)" font-size="14.0" text-anchor="middle" fill="#ff69b4" font-family="Liberation Sans, sans-serif">=</text>
<text transform="translate(110.90 156.63) scale(1.1 1)" font-size="14.0" text-anchor="middle" fill="#ff69b4" font-family="Liberation Sans, sans-serif">5</text>
<text transform="translate(147.20 354.60) scale(1.0 1)" font-size="13.5" text-anchor="middle" font-family="Liberation Sans, sans-serif">l</text>
<text transform="translate(153.60 354.60) scale(1.1 1)" font-size="13.5" text-anchor="middle" font-family="Liberation Sans, sans-serif">o</text>
<text transform="translate(162.20 354.60) scale(1.08 1)" font-size="13.5" text-anchor="middle" font-family="Liberation Sans, sans-serif">g</text>
<text transform="translate(179.05 354.60) scale(0.92 1)" font-size="13.5" text-anchor="middle" font-family="Liberation Sans, sans-serif">M</text>
<text transform="translate(218.30 354.60) scale(1.0 1)" font-size="13.5" text-anchor="middle" font-family="Liberation Sans, sans-serif">h</text>
<text transform="translate(248.00 354.60) scale(0.92 1)" font-size="13.5" text-anchor="middle" font-family="Liberation Sans, sans-serif">M</text>
<text transform="translate(186.90 359.55) scale(1.0 1)" font-size="9.3" text-anchor="middle" stroke="#000" stroke-width="0.35" font-family="Liberation Sans, sans-serif">2</text>
<text transform="translate(192.30 359.55) scale(1.0 1)" font-size="9.3" text-anchor="middle" stroke="#000" stroke-width="0.35" font-family="Liberation Sans, sans-serif">0</text>
<text transform="translate(197.85 359.55) scale(1.0 1)" font-size="9.3" text-anchor="middle" stroke="#000" stroke-width="0.35" font-family="Liberation Sans, sans-serif">0</text>
<path d="M212.6 343.75H209.9V357.85H212.6M262.2 343.75H264.9V357.85H262.2" fill="none" stroke="#000" stroke-width="1.4"/>
<path d="M223.9 347.7H229.0" fill="none" stroke="#000" stroke-width="1.45"/>
<path d="M230.80 346.60L232.70 345.20M232.70 344.95V350.55" fill="none" stroke="#000" stroke-width="1.4" stroke-linejoin="round"/>
<circle cx="256.85" cy="356.5" r="2.95" fill="none" stroke="#000" stroke-width="1.15"/><circle cx="256.85" cy="356.55" r="0.85" fill="#000"/>
<path d="M17.7 164.7C17.2 166.3 13 166.3 11.8 168.6C10.8 171 12.4 172.5 14.8 172.4C17.4 172.2 18.4 170.2 17.6 168.4C16.7 166.6 12.4 166.7 11.5 164.9" fill="none" stroke="#000" stroke-width="1.35" stroke-linecap="round"/>
</svg>
</body></html>
